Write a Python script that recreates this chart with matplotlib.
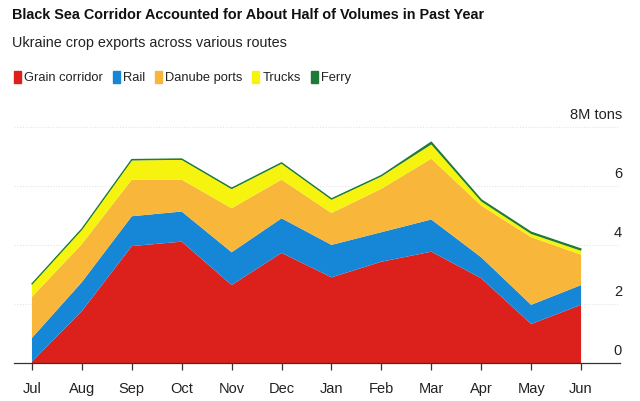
# Stacked area chart: Ukraine crop exports by route
import matplotlib.pyplot as plt
from matplotlib.patches import Rectangle
from matplotlib.transforms import blended_transform_factory, ScaledTranslation

plt.rcParams['font.family'] = ['Liberation Sans', 'DejaVu Sans']

months = ['Jul', 'Aug', 'Sep', 'Oct', 'Nov', 'Dec',
          'Jan', 'Feb', 'Mar', 'Apr', 'May', 'Jun']

# million tons per month
grain = [0.05, 1.76, 3.96, 4.11, 2.64, 3.73, 2.90, 3.43, 3.77, 2.87, 1.32, 1.97]
rail = [0.80, 0.98, 1.01, 1.02, 1.11, 1.17, 1.10, 1.00, 1.09, 0.71, 0.65, 0.67]
danube = [1.39, 1.29, 1.24, 1.08, 1.49, 1.31, 1.08, 1.47, 2.06, 1.75, 2.29, 1.03]
trucks = [0.42, 0.48, 0.65, 0.67, 0.65, 0.54, 0.45, 0.42, 0.48, 0.14, 0.11, 0.13]
ferry = [0.02, 0.03, 0.03, 0.03, 0.03, 0.03, 0.03, 0.03, 0.08, 0.06, 0.06, 0.06]

series_names = ['Grain corridor', 'Rail', 'Danube ports', 'Trucks', 'Ferry']
colors = ['#dc211c', '#1686d6', '#f8b63a', '#f6f40e', '#1e7a36']
y_ticks = [0, 2, 4, 6, 8]
y_labels = ['0', '2', '4', '6', '8M tons']

fig = plt.figure(figsize=(6.4, 4.02), dpi=100)
W, H = 640, 402
renderer = fig.canvas.get_renderer()


def fit_width(txt, width_px, max_size):
    # shrink a text until it is no wider than the reference
    txt.set_fontsize(max_size)
    w = txt.get_window_extent(renderer).width
    if w > width_px:
        txt.set_fontsize(max_size * width_px / w)
    return txt


# axes box in pixels: x 14..620, baseline y=364, top y=113
ax = fig.add_axes([14 / W, 38 / H, 606 / W, 251 / H])

x = list(range(len(months)))
ax.stackplot(x, grain, rail, danube, trucks, ferry, colors=colors,
             linewidth=0, zorder=2)

# thin green edge on top of the stack (ferry)
total = [sum(v) for v in zip(grain, rail, danube, trucks, ferry)]
ax.plot(x, total, color='#1e7a36', lw=0.9, zorder=3)

ax.set_xlim(-0.36, 11.78)
ax.set_ylim(0, 8.5)

# faint gridlines
for t in y_ticks[1:]:
    ax.axhline(t, color='#e4e4e4', lw=0.8, ls=(0, (1, 1.5)), zorder=1)

for s in ['top', 'right', 'left']:
    ax.spines[s].set_visible(False)
ax.spines['bottom'].set_color('#333333')
ax.spines['bottom'].set_linewidth(0.9)
ax.spines['bottom'].set_zorder(4)

ax.set_yticks([])
ax.set_xticks(x)
ax.set_xticklabels(months, fontsize=10.5, color='#222222')
ax.tick_params(axis='x', length=5, width=0.9, color='#333333', pad=8)

# right-hand labels sitting above the gridlines
trans = blended_transform_factory(ax.transAxes, ax.transData) + \
    ScaledTranslation(2 / 100, 6 / 100, fig.dpi_scale_trans)
for t, lab in zip(y_ticks, y_labels):
    ax.text(1.0, t, lab, transform=trans, ha='right', va='bottom',
            fontsize=10.5, color='#222222')

# title and subtitle
title = fig.text(12 / W, 1 - 15 / H,
                 'Black Sea Corridor Accounted for About Half of Volumes in Past Year',
                 fontweight='bold', va='center', ha='left', color='#111111')
fit_width(title, 476, 15)
sub = fig.text(12 / W, 1 - 43 / H, 'Ukraine crop exports across various routes',
               va='center', ha='left', color='#222222')
fit_width(sub, 274, 13.5)

# legend, laid out left to right
lx = 14
for name, c in zip(series_names, colors):
    fig.patches.append(Rectangle((lx / W, 1 - 84 / H), 7 / W, 12 / H,
                                 transform=fig.transFigure, color=c))
    t = fig.text((lx + 10) / W, 1 - 78 / H, name, va='center',
                 ha='left', color='#222222', fontsize=9.3)
    lx += 10 + t.get_window_extent(renderer).width + 10

fig.savefig('out.png', dpi=100, facecolor='white')
